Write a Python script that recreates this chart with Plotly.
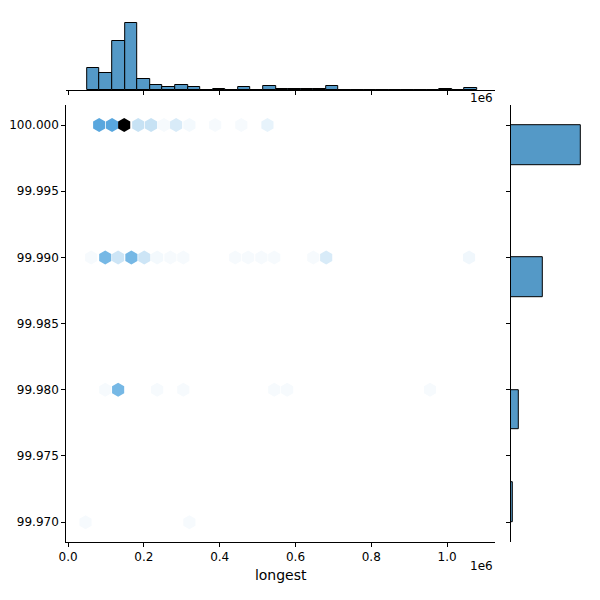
import plotly.graph_objects as go

# hexbin cells (x in 1e6 units, y in display units, count)
hex_x = [0.082, 0.116, 0.148, 0.185, 0.219, 0.253, 0.285, 0.320, 0.388, 0.457, 0.526,
         0.061, 0.098, 0.132, 0.167, 0.201, 0.235, 0.270, 0.304, 0.441, 0.475, 0.510, 0.544,
         0.647, 0.681, 1.058,
         0.098, 0.132, 0.235, 0.304, 0.544, 0.578, 0.955,
         0.046, 0.320]
hex_y = [100.000] * 11 + [99.990] * 15 + [99.980] * 7 + [99.970] * 2
hex_count = [55, 55, 100, 18, 18, 2, 12, 3, 2, 2, 7,
             2, 45, 16, 45, 16, 3, 2, 2, 2, 2, 2, 2,
             2, 12, 4,
             2, 45, 2, 2, 2, 2, 2,
             2, 2]

# top marginal histogram
bin_start = 0.050
bin_width = 0.0332
top_counts = [23, 18, 52, 71, 12, 6, 3, 5, 3, 0, 1, 0, 3, 0, 4, 1, 1, 1, 1, 4,
              0, 0, 0, 0, 0, 0, 0, 0, 1, 0, 2]
top_x = [bin_start + bin_width * (i + 0.5) for i in range(len(top_counts))]

# right marginal histogram
right_y = [99.9985, 99.9885, 99.9785, 99.9715]
right_counts = [70, 32, 8, 1.5]

blue = "#5499c7"
fig = go.Figure()
fig.add_trace(go.Scatter(
    x=hex_x, y=hex_y, mode="markers", xaxis="x", yaxis="y",
    marker=dict(symbol="hexagon", size=14, color=hex_count,
                colorscale=[[0, "#ffffff"], [0.55, "#5aa9e0"], [1, "#000000"]],
                cmin=-1, cmax=100, line=dict(width=0)),
    showlegend=False))
fig.add_trace(go.Bar(
    x=top_x, y=top_counts, width=bin_width, xaxis="x2", yaxis="y2",
    marker=dict(color=blue, line=dict(color="black", width=1)), showlegend=False))
fig.add_trace(go.Bar(
    x=right_counts, y=right_y, width=0.003, orientation="h", xaxis="x3", yaxis="y3",
    marker=dict(color=blue, line=dict(color="black", width=1)), showlegend=False))

axis_common = dict(showgrid=False, zeroline=False, showline=True, linecolor="black",
                   ticks="outside", tickcolor="black", ticklen=4, automargin=False)
fig.update_layout(
    width=600, height=600, margin=dict(l=0, r=0, t=0, b=0),
    plot_bgcolor="white", paper_bgcolor="white",
    font=dict(family="DejaVu Sans", size=12, color="black"),
    xaxis=dict(domain=[0.097, 0.812], anchor="y", range=[-0.005, 1.127],
               tickvals=[0, 0.2, 0.4, 0.6, 0.8, 1.0], tickformat=".1f",
               title=dict(text="longest", standoff=6), **axis_common),
    yaxis=dict(domain=[0.11, 0.838], anchor="x", range=[99.9685, 100.0015],
               tickvals=[99.970, 99.975, 99.980, 99.985, 99.990, 99.995, 100.000],
               tickformat=".3f", **axis_common),
    xaxis2=dict(domain=[0.097, 0.812], anchor="y2", matches="x", showticklabels=False,
                **axis_common),
    yaxis2=dict(domain=[0.863, 0.98], anchor="x2", range=[0, 74], visible=False),
    xaxis3=dict(domain=[0.838, 0.958], anchor="y3", range=[0, 72], visible=False),
    yaxis3=dict(domain=[0.11, 0.838], anchor="x3", matches="y", showticklabels=False,
                **axis_common),
    bargap=0,
    annotations=[
        dict(text="1e6", x=0.812, y=0.835, xref="paper", yref="paper",
             xanchor="right", yanchor="bottom", showarrow=False),
        dict(text="1e6", x=0.812, y=0.055, xref="paper", yref="paper",
             xanchor="right", yanchor="bottom", showarrow=False),
    ],
)
fig.write_html("out.html")
